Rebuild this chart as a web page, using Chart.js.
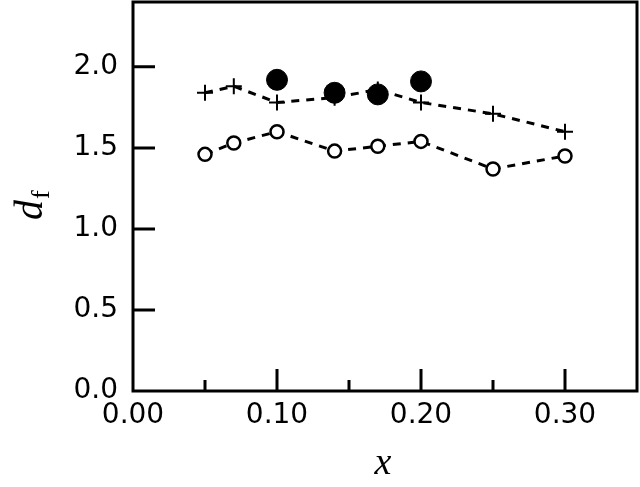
<!DOCTYPE html>
<html>
<head>
<meta charset="utf-8">
<script src="https://cdn.jsdelivr.net/npm/chart.js@4"></script>
<style>
  html, body { margin: 0; padding: 0; background: #fff; }
  canvas { display: block; }
</style>
</head>
<body>
<canvas id="chart" width="640" height="487"></canvas>
<script>
// x positions shared by the two dashed series
const xValues = [0.05, 0.07, 0.10, 0.14, 0.17, 0.20, 0.25, 0.30];
const plusValues = [1.84, 1.88, 1.78, 1.81, 1.86, 1.78, 1.71, 1.60];
const openValues = [1.46, 1.53, 1.60, 1.48, 1.51, 1.54, 1.37, 1.45];

// filled circles, no line
const filledX = [0.10, 0.14, 0.17, 0.20];
const filledValues = [1.92, 1.84, 1.83, 1.91];

const xMajorTicks = [0.1, 0.2, 0.3];
const xMinorTicks = [0.05, 0.15, 0.25];
const yMajorTicks = [0.5, 1.0, 1.5, 2.0];

const toPoints = (xs, ys) => xs.map((x, i) => ({ x: x, y: ys[i] }));

// box, inward ticks and axis titles
const framePlugin = {
  id: "frame",
  afterDraw(chart) {
    const { ctx, chartArea: a, scales } = chart;
    ctx.save();
    ctx.strokeStyle = "#000";
    ctx.lineWidth = 3;
    ctx.strokeRect(a.left, a.top, a.right - a.left, a.bottom - a.top);

    ctx.beginPath();
    xMajorTicks.forEach((v) => {
      const px = scales.x.getPixelForValue(v);
      ctx.moveTo(px, a.bottom);
      ctx.lineTo(px, a.bottom - 22);
    });
    xMinorTicks.forEach((v) => {
      const px = scales.x.getPixelForValue(v);
      ctx.moveTo(px, a.bottom);
      ctx.lineTo(px, a.bottom - 11);
    });
    yMajorTicks.forEach((v) => {
      const py = scales.y.getPixelForValue(v);
      ctx.moveTo(a.left, py);
      ctx.lineTo(a.left + 22, py);
    });
    ctx.stroke();

    // axis titles
    ctx.fillStyle = "#000";
    ctx.textAlign = "center";
    ctx.textBaseline = "alphabetic";
    ctx.font = "italic 38px 'Liberation Serif'";
    ctx.fillText("x", (a.left + a.right) / 2 - 2, 474);

    ctx.translate(42, 204);
    ctx.rotate(-Math.PI / 2);
    ctx.textAlign = "left";
    ctx.font = "italic 40px 'Liberation Serif'";
    ctx.fillText("d", -16, 0);
    ctx.font = "26px 'Liberation Serif'";
    ctx.fillText("f", 5, 7);
    ctx.restore();
  },
};

// keep the plot box where the reference puts it
const noPadding = (scale) => {
  scale.paddingTop = 0;
  scale.paddingBottom = 0;
  scale.paddingLeft = 0;
  scale.paddingRight = 0;
};

const ctx = document.getElementById("chart");

new Chart(ctx, {
  type: "scatter",
  data: {
    datasets: [
      {
        label: "filled",
        data: toPoints(filledX, filledValues),
        showLine: false,
        pointStyle: "circle",
        pointRadius: 10.5,
        pointBackgroundColor: "#000",
        pointBorderColor: "#000",
        order: 0,
      },
      {
        label: "plus",
        data: toPoints(xValues, plusValues),
        showLine: true,
        borderColor: "#000",
        borderWidth: 3,
        borderDash: [8, 7],
        tension: 0,
        pointStyle: "cross",
        pointRadius: 8,
        pointBorderWidth: 2,
        pointBorderColor: "#000",
        order: 1,
      },
      {
        label: "open",
        data: toPoints(xValues, openValues),
        showLine: true,
        borderColor: "#000",
        borderWidth: 3,
        borderDash: [8, 7],
        tension: 0,
        pointStyle: "circle",
        pointRadius: 6.5,
        pointBorderWidth: 2.5,
        pointBackgroundColor: "#fff",
        pointBorderColor: "#000",
        order: 2,
      },
    ],
  },
  options: {
    responsive: false,
    animation: false,
    layout: { autoPadding: false, padding: { top: 2, right: 3, left: 0, bottom: 0 } },
    plugins: {
      legend: { display: false },
      tooltip: { enabled: false },
    },
    scales: {
      x: {
        type: "linear",
        min: 0,
        max: 0.35,
        grid: { display: false, drawTicks: false },
        border: { display: false },
        afterFit: (scale) => { scale.height = 96; noPadding(scale); },
        ticks: {
          stepSize: 0.1,
          includeBounds: false,
          padding: 8,
          color: "#000",
          font: { family: "'DejaVu Sans'", size: 28 },
          callback: (v) => v.toFixed(2),
        },
      },
      y: {
        type: "linear",
        min: 0,
        max: 2.4,
        grid: { display: false, drawTicks: false },
        border: { display: false },
        afterFit: (scale) => { scale.width = 133; noPadding(scale); },
        ticks: {
          stepSize: 0.5,
          includeBounds: false,
          padding: 15,
          color: "#000",
          font: { family: "'DejaVu Sans'", size: 28 },
          callback: (v) => v.toFixed(1),
        },
      },
    },
  },
  plugins: [framePlugin],
});
</script>
</body>
</html>
